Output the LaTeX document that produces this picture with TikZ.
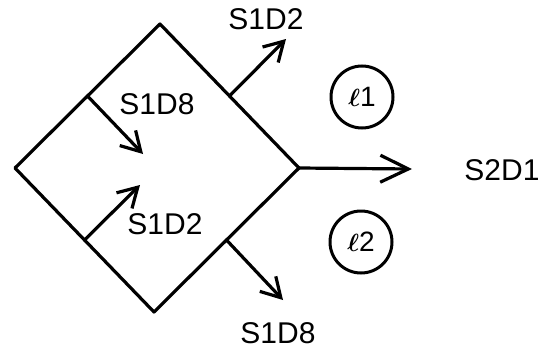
\documentclass[tikz,border=0pt]{standalone}
\usepackage{fontspec}
\setmainfont{Liberation Sans}
\usetikzlibrary{arrows.meta,calc}
\begin{document}
\begin{tikzpicture}[x=1pt,y=-1pt,
  ln/.style={line width=3.2pt,line cap=round,line join=round},
  arr/.style={ln,-{Straight Barb[length=19pt,width=22pt,line width=3.2pt]}},
  longarr/.style={ln,-{Straight Barb[length=28pt,width=27pt,line width=3.2pt]}},
  lbl/.style={font=\fontsize{30}{30}\selectfont},
  circ/.style={circle,draw,line width=3pt,minimum size=62pt,inner sep=0pt,font=\fontsize{28}{28}\selectfont\boldmath}]
\useasboundingbox (0,0) rectangle (555,351);
\coordinate (T) at (160,24);
\coordinate (L) at (15,168);
\coordinate (B) at (154,312);
\coordinate (R) at (299,168);
\draw[ln] (T) -- (R) -- (B) -- (L) -- cycle;
% edge points
\coordinate (ul) at ($(L)!0.5!(T)$);
\coordinate (ll) at ($(L)!0.5!(B)$);
\coordinate (ur) at ($(T)!0.5!(R)$);
\coordinate (lr) at ($(R)!0.5!(B)$);
\coordinate (a1) at (143,154);
\coordinate (a2) at (140,185);
\coordinate (a3) at (286,39);
\coordinate (a4) at (283,300);
\coordinate (a5) at (412,169);
\draw[arr] (ul) -- (a1);
\draw[arr] (ll) -- (a2);
\draw[arr] (ur) -- (a3);
\draw[arr] (lr) -- (a4);
\draw[longarr] (R) -- (a5);
\node[lbl] (t1) at (266,19) {S1D2};
\node[lbl] (t2) at (157,104) {S1D8};
\node[lbl] (t3) at (165,224) {S1D2};
\node[lbl] (t4) at (278,333) {S1D8};
\node[lbl] (t5) at (502,170) {S2D1};
\node[circ] (c1) at (362,97) {$\ell$1};
\node[circ] (c2) at (361,242) {$\ell$2};
\end{tikzpicture}
\end{document}
